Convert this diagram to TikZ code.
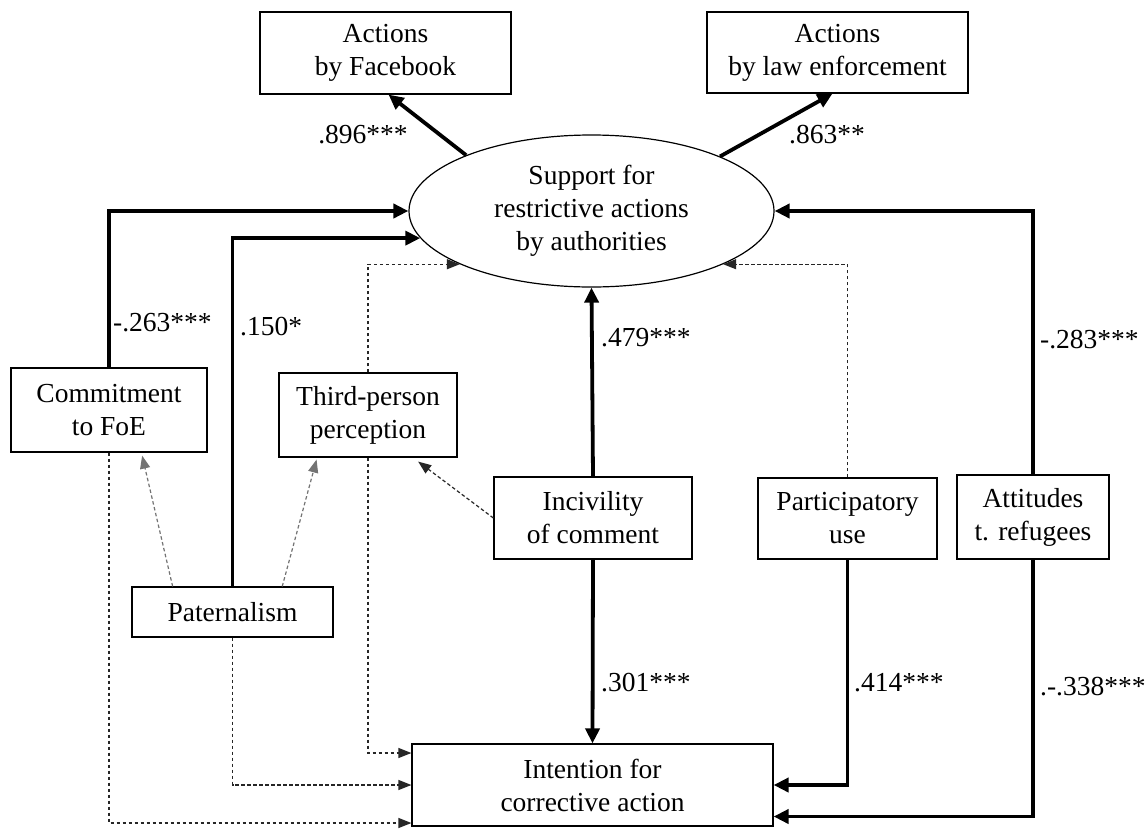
\documentclass[tikz,border=0pt]{standalone}
\usepackage{fontspec}
\setmainfont{Liberation Serif}
\usetikzlibrary{shapes.geometric,arrows.meta,calc}
\begin{document}
\begin{tikzpicture}[x=1pt,y=-1pt,
  every node/.style={font=\fontsize{27.5}{33}\selectfont},
  box/.style={draw, line width=1.2pt, rectangle, inner sep=0pt, align=center},
  ovalnode/.style={draw, line width=1.2pt, ellipse, inner sep=0pt, align=center},
  thickarr/.style={line width=3.8pt, -{Triangle[length=15pt,width=14pt]}},
  dasharr/.style={line width=1.2pt, dash pattern=on 3.5pt off 2.5pt, -{Triangle[length=13pt,width=10pt]}, black!85},
  graydash/.style={dasharr, black!55},
  lbl/.style={anchor=west, inner sep=0pt}
]
\fill[white] (0,0) rectangle (1146,828);
\useasboundingbox (0,0) rectangle (1146,828);

% nodes
\node[box, minimum width=251pt, minimum height=82pt] (fb) at (385.5,53) {Actions\\by Facebook};
\node[box, minimum width=261pt, minimum height=81pt] (law) at (837.5,52.5) {Actions\\by law enforcement};
\node[ovalnode, minimum width=365pt, minimum height=152pt] (sup) at (591.5,211) {Support for\\restrictive actions\\by authorities};
\node[box, minimum width=196pt, minimum height=84pt] (com) at (109,410) {Commitment\\to FoE};
\node[box, minimum width=178pt, minimum height=84pt] (tpp) at (368,415) {Third-person\\perception};
\node[box, minimum width=198pt, minimum height=82pt] (inc) at (593,518) {Incivility\\of comment};
\node[box, minimum width=179pt, minimum height=81pt] (par) at (847.5,518.5) {Participatory\\use};
\node[box, minimum width=152pt, minimum height=84pt] (att) at (1033,517) {Attitudes\\t. refugees};
\node[box, minimum width=201pt, minimum height=50pt] (pat) at (232.5,612) {Paternalism};
\node[box, minimum width=361pt, minimum height=82pt] (int) at (592.5,785) {Intention for\\corrective action};

% loadings
\draw[thickarr] (sup.156.5) -- ($(fb.south)+(3,0)$);
\draw[thickarr] (sup.23.5) -- ($(law.south)+(-5,0)$);
\node at (363,135) {.896***};
\node at (827,135) {.863**};

% paths to support
\draw[thickarr] (com.north) |- (sup.west);
\node[lbl] at (113,323) {-.263***};
\draw[thickarr] (pat.north) |- (sup.189.4);
\node[lbl] at (240,327) {.150*};
\draw[dasharr] (tpp.north) |- (sup.202.8);
\draw[thickarr] (inc.north) -- (sup.south);
\node[lbl] at (601,338) {.479***};
\draw[dasharr] (par.north) |- (sup.338.3);
\draw[thickarr] (att.north) |- (sup.east);
\node[lbl] at (1040,340) {-.283***};

% among predictors
\draw[graydash] ($(pat.north west)!0.204!(pat.north east)$) -- ($(com.south west)!0.668!(com.south east)+(0,3)$);
\draw[graydash] ($(pat.north west)!0.746!(pat.north east)$) -- ($(tpp.south west)!0.213!(tpp.south east)+(0,2)$);
\draw[dasharr] (inc.west) -- ($(tpp.south west)!0.78!(tpp.south east)+(0,4)$);

% paths to intention
\draw[thickarr] (inc.south) -- (int.north);
\node[lbl] at (601,683) {.301***};
\draw[thickarr] (par.south) |- (int.east);
\node[lbl] at (854,683) {.414***};
\draw[thickarr] (att.south) |- ($(int.east)+(0,31.5)$);
\node[lbl] at (1040,687) {.-.338***};
\draw[dasharr] (tpp.south) |- ($(int.west)+(0,-32)$);
\draw[dasharr] (pat.south) |- (int.west);
\draw[dasharr] (com.south) |- ($(int.west)+(0,38)$);
\end{tikzpicture}
\end{document}
